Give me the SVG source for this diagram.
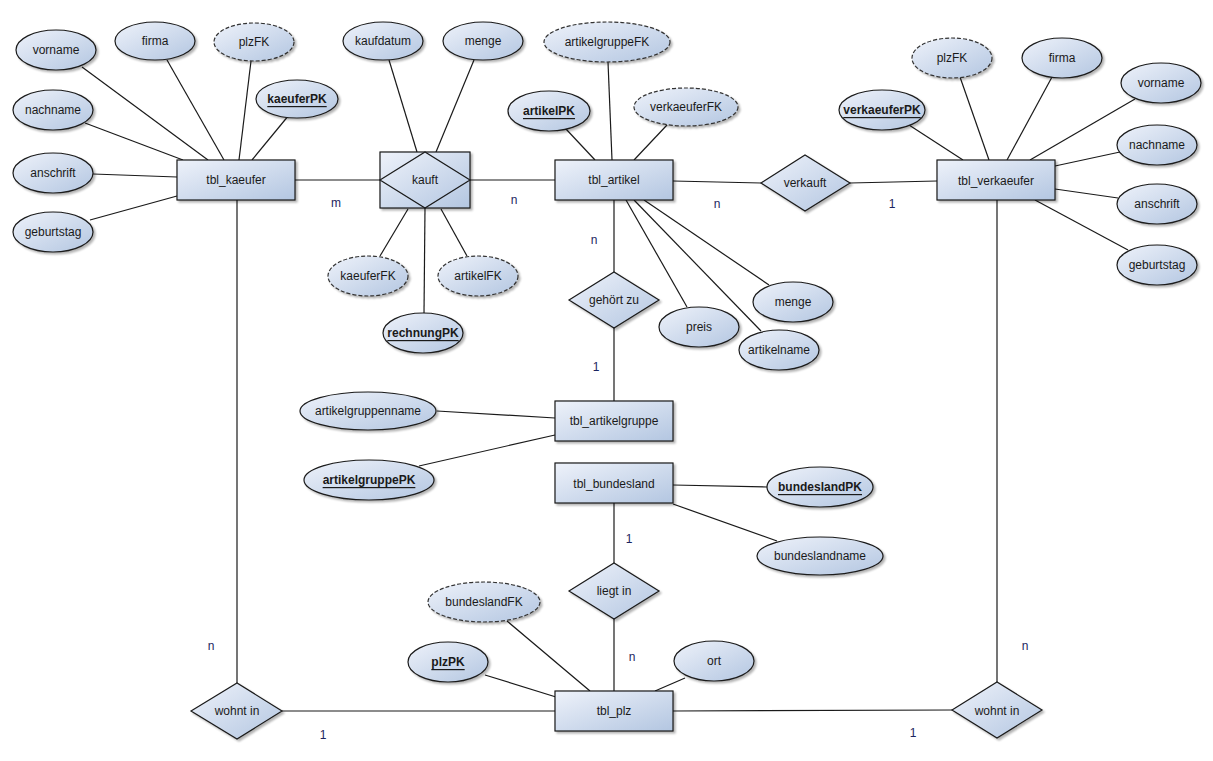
<svg xmlns="http://www.w3.org/2000/svg" width="1213" height="761" viewBox="0 0 1213 761">
<defs>
<linearGradient id="g" x1="0" y1="0" x2="1" y2="1">
<stop offset="0" stop-color="#eef2fa"/>
<stop offset="1" stop-color="#b3c6e1"/>
</linearGradient>
<filter id="sh" x="-20%" y="-20%" width="140%" height="150%">
<feGaussianBlur in="SourceAlpha" stdDeviation="1.2"/>
<feOffset dx="2" dy="2" result="o"/>
<feComponentTransfer><feFuncA type="linear" slope="0.3"/></feComponentTransfer>
<feMerge><feMergeNode/><feMergeNode in="SourceGraphic"/></feMerge>
</filter>
</defs>
<style>
.e,.r,.d{fill:url(#g);stroke:#1a1a1a;stroke-width:1.2;filter:url(#sh)}
.fk{stroke-dasharray:4,2;stroke:#333}
.t{font-family:"Liberation Sans",Arial,sans-serif;font-size:12px;fill:#1a1a1a;text-anchor:middle;dominant-baseline:central}
.pk{font-weight:bold;text-decoration:underline}
.c{font-family:"Liberation Sans",Arial,sans-serif;font-size:12px;fill:#1c2460;text-anchor:middle;dominant-baseline:central}
#conn line{stroke:#1a1a1a;stroke-width:1.2}
</style>
<rect width="1213" height="761" fill="#ffffff"/>
<g id="conn">
<line x1="82" y1="67" x2="208" y2="160"/>
<line x1="167" y1="60" x2="224" y2="160"/>
<line x1="251" y1="61" x2="239" y2="160"/>
<line x1="289" y1="115" x2="252" y2="160"/>
<line x1="85" y1="123" x2="183" y2="160"/>
<line x1="93" y1="174" x2="177" y2="177"/>
<line x1="90" y1="220" x2="177" y2="196"/>
<line x1="237" y1="200" x2="237" y2="683"/>
<line x1="295" y1="180" x2="380" y2="180"/>
<line x1="470" y1="180" x2="555" y2="180"/>
<line x1="389" y1="60" x2="417" y2="152"/>
<line x1="474" y1="60" x2="436" y2="152"/>
<line x1="380" y1="256" x2="408" y2="209"/>
<line x1="467" y1="256" x2="441" y2="209"/>
<line x1="424" y1="313" x2="425" y2="208"/>
<line x1="608" y1="62" x2="612" y2="160"/>
<line x1="566" y1="129" x2="595" y2="160"/>
<line x1="667" y1="125" x2="634" y2="160"/>
<line x1="673" y1="181" x2="761" y2="183"/>
<line x1="850" y1="183" x2="937" y2="181"/>
<line x1="614" y1="200" x2="614" y2="272"/>
<line x1="614" y1="328" x2="614" y2="401"/>
<line x1="687" y1="307" x2="626" y2="200"/>
<line x1="761" y1="331" x2="634" y2="200"/>
<line x1="769" y1="285" x2="644" y2="200"/>
<line x1="909" y1="125" x2="963" y2="160"/>
<line x1="960" y1="77" x2="989" y2="160"/>
<line x1="1052" y1="77" x2="1007" y2="160"/>
<line x1="1135" y1="99" x2="1030" y2="160"/>
<line x1="1120" y1="152" x2="1055" y2="166"/>
<line x1="1118" y1="198" x2="1055" y2="189"/>
<line x1="1128" y1="250" x2="1035" y2="200"/>
<line x1="997" y1="200" x2="997" y2="682"/>
<line x1="437" y1="411" x2="555" y2="418"/>
<line x1="419" y1="466" x2="555" y2="435"/>
<line x1="673" y1="485" x2="767" y2="487"/>
<line x1="673" y1="504" x2="777" y2="541"/>
<line x1="614" y1="503" x2="614" y2="563"/>
<line x1="614" y1="619" x2="614" y2="691"/>
<line x1="507" y1="621" x2="590" y2="691"/>
<line x1="485" y1="675" x2="556" y2="697"/>
<line x1="685" y1="678" x2="655" y2="691"/>
<line x1="282" y1="711" x2="555" y2="711"/>
<line x1="673" y1="711" x2="952" y2="710"/>
</g>
<g id="cardinalities">
<text class="c" x="336" y="203">m</text>
<text class="c" x="514" y="200">n</text>
<text class="c" x="717" y="204">n</text>
<text class="c" x="892" y="204">1</text>
<text class="c" x="594" y="240">n</text>
<text class="c" x="596" y="367">1</text>
<text class="c" x="629" y="539">1</text>
<text class="c" x="632" y="657">n</text>
<text class="c" x="211" y="646">n</text>
<text class="c" x="323" y="735">1</text>
<text class="c" x="1025" y="646">n</text>
<text class="c" x="913" y="733">1</text>
</g>
<g id="tbl_kaeufer"><rect class="r" x="177" y="160" width="118" height="40"/><text class="t" x="236" y="180">tbl_kaeufer</text></g>
<g id="k_vorname"><ellipse class="e" cx="56" cy="50" rx="40" ry="20"/><text class="t" x="56" y="50">vorname</text></g>
<g id="k_firma"><ellipse class="e" cx="155" cy="41" rx="40" ry="19"/><text class="t" x="155" y="41">firma</text></g>
<g id="k_plzFK"><ellipse class="e fk" cx="254" cy="42" rx="40" ry="19"/><text class="t" x="254" y="42">plzFK</text></g>
<g id="k_kaeuferPK"><ellipse class="e" cx="297" cy="99" rx="41" ry="19"/><text class="t pk" x="297" y="99">kaeuferPK</text></g>
<g id="k_nachname"><ellipse class="e" cx="53" cy="110" rx="40" ry="20"/><text class="t" x="53" y="110">nachname</text></g>
<g id="k_anschrift"><ellipse class="e" cx="53" cy="173" rx="40" ry="20"/><text class="t" x="53" y="173">anschrift</text></g>
<g id="k_geburtstag"><ellipse class="e" cx="53" cy="232" rx="40" ry="20"/><text class="t" x="53" y="232">geburtstag</text></g>
<g id="kauft"><rect class="r" x="380" y="152" width="90" height="56"/><polygon points="380,180 425,152 470,180 425,208" fill="url(#g)" stroke="#1a1a1a" stroke-width="1.2"/><text class="t" x="425" y="180">kauft</text></g>
<g id="kaufdatum"><ellipse class="e" cx="383" cy="41" rx="40" ry="19"/><text class="t" x="383" y="41">kaufdatum</text></g>
<g id="kauf_menge"><ellipse class="e" cx="483" cy="41" rx="40" ry="19"/><text class="t" x="483" y="41">menge</text></g>
<g id="kaeuferFK"><ellipse class="e fk" cx="368" cy="276" rx="40" ry="20"/><text class="t" x="368" y="276">kaeuferFK</text></g>
<g id="artikelFK"><ellipse class="e fk" cx="478" cy="276" rx="40" ry="20"/><text class="t" x="478" y="276">artikelFK</text></g>
<g id="rechnungPK"><ellipse class="e" cx="423" cy="333" rx="40" ry="20"/><text class="t pk" x="423" y="333">rechnungPK</text></g>
<g id="tbl_artikel"><rect class="r" x="555" y="160" width="118" height="40"/><text class="t" x="614" y="180">tbl_artikel</text></g>
<g id="artikelgruppeFK"><ellipse class="e fk" cx="607" cy="42" rx="63" ry="20"/><text class="t" x="607" y="42">artikelgruppeFK</text></g>
<g id="artikelPK"><ellipse class="e" cx="549" cy="111" rx="41" ry="20"/><text class="t pk" x="549" y="111">artikelPK</text></g>
<g id="verkaeuferFK"><ellipse class="e fk" cx="686" cy="107" rx="52" ry="19"/><text class="t" x="686" y="107">verkaeuferFK</text></g>
<g id="verkauft"><polygon class="d" points="761,183 805,155 850,183 805,211"/><text class="t" x="805" y="183">verkauft</text></g>
<g id="gehoert_zu"><polygon class="d" points="569,300 614,272 659,300 614,328"/><text class="t" x="614" y="300">gehört zu</text></g>
<g id="preis"><ellipse class="e" cx="699" cy="327" rx="40" ry="20"/><text class="t" x="699" y="327">preis</text></g>
<g id="a_menge"><ellipse class="e" cx="793" cy="302" rx="40" ry="20"/><text class="t" x="793" y="302">menge</text></g>
<g id="artikelname"><ellipse class="e" cx="779" cy="350" rx="40" ry="20"/><text class="t" x="779" y="350">artikelname</text></g>
<g id="tbl_verkaeufer"><rect class="r" x="937" y="160" width="118" height="40"/><text class="t" x="996" y="181">tbl_verkaeufer</text></g>
<g id="v_plzFK"><ellipse class="e fk" cx="952" cy="58" rx="40" ry="20"/><text class="t" x="952" y="58">plzFK</text></g>
<g id="v_firma"><ellipse class="e" cx="1062" cy="58" rx="40" ry="20"/><text class="t" x="1062" y="58">firma</text></g>
<g id="v_vorname"><ellipse class="e" cx="1161" cy="83" rx="40" ry="20"/><text class="t" x="1161" y="83">vorname</text></g>
<g id="v_nachname"><ellipse class="e" cx="1157" cy="145" rx="40" ry="20"/><text class="t" x="1157" y="145">nachname</text></g>
<g id="v_anschrift"><ellipse class="e" cx="1157" cy="204" rx="40" ry="20"/><text class="t" x="1157" y="204">anschrift</text></g>
<g id="v_geburtstag"><ellipse class="e" cx="1157" cy="265" rx="40" ry="20"/><text class="t" x="1157" y="265">geburtstag</text></g>
<g id="verkaeuferPK"><ellipse class="e" cx="882" cy="110" rx="43" ry="20"/><text class="t pk" x="882" y="110">verkaeuferPK</text></g>
<g id="tbl_artikelgruppe"><rect class="r" x="555" y="401" width="118" height="40"/><text class="t" x="614" y="421">tbl_artikelgruppe</text></g>
<g id="artikelgruppenname"><ellipse class="e" cx="368" cy="411" rx="68" ry="19"/><text class="t" x="368" y="411">artikelgruppenname</text></g>
<g id="artikelgruppePK"><ellipse class="e" cx="369" cy="480" rx="65" ry="20"/><text class="t pk" x="369" y="480">artikelgruppePK</text></g>
<g id="tbl_bundesland"><rect class="r" x="555" y="463" width="118" height="40"/><text class="t" x="614" y="484">tbl_bundesland</text></g>
<g id="bundeslandPK"><ellipse class="e" cx="820" cy="487" rx="53" ry="20"/><text class="t pk" x="820" y="487">bundeslandPK</text></g>
<g id="bundeslandname"><ellipse class="e" cx="820" cy="556" rx="63" ry="19"/><text class="t" x="820" y="556">bundeslandname</text></g>
<g id="liegt_in"><polygon class="d" points="569,591 614,563 659,591 614,619"/><text class="t" x="614" y="591">liegt in</text></g>
<g id="tbl_plz"><rect class="r" x="555" y="691" width="118" height="40"/><text class="t" x="614" y="711">tbl_plz</text></g>
<g id="bundeslandFK"><ellipse class="e fk" cx="484" cy="602" rx="56" ry="20"/><text class="t" x="484" y="602">bundeslandFK</text></g>
<g id="plzPK"><ellipse class="e" cx="448" cy="662" rx="40" ry="20"/><text class="t pk" x="448" y="662">plzPK</text></g>
<g id="ort"><ellipse class="e" cx="714" cy="661" rx="40" ry="20"/><text class="t" x="714" y="661">ort</text></g>
<g id="wohnt_in_k"><polygon class="d" points="191,711 237,683 282,711 237,739"/><text class="t" x="237" y="711">wohnt in</text></g>
<g id="wohnt_in_v"><polygon class="d" points="952,710 997,682 1042,710 997,738"/><text class="t" x="997" y="711">wohnt in</text></g>
</svg>
